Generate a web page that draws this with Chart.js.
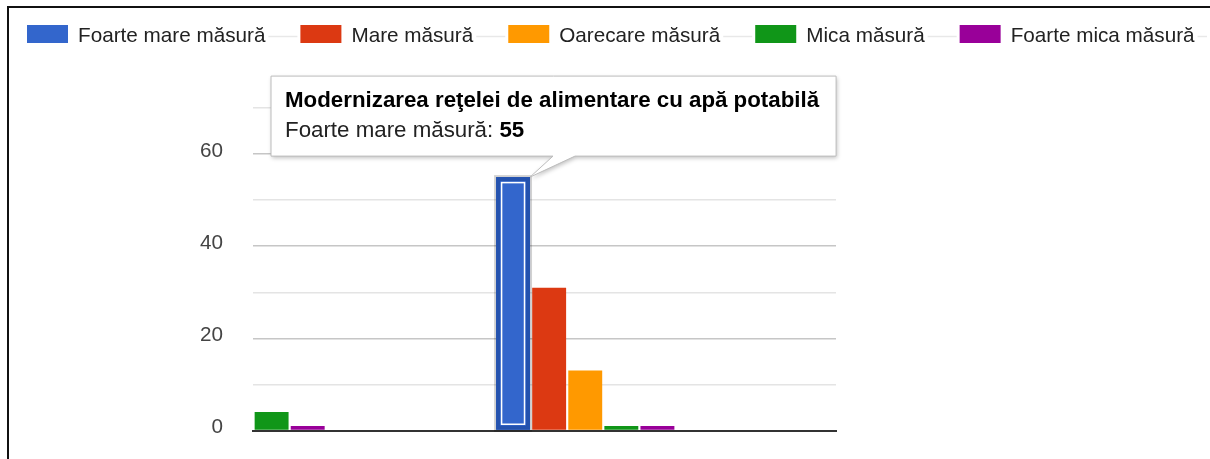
<!DOCTYPE html>
<html lang="ro">
  <head>
    <meta charset="utf-8">
    <title>Grafic</title>
    <script src="https://cdn.jsdelivr.net/npm/chart.js"></script>
    <style>
      html, body { margin: 0; padding: 0; background: #fff; overflow: hidden; }
      #wrap { position: relative; width: 1210px; height: 459px; }
      #frame { position: absolute; left: 7px; top: 6px; right: -10px; bottom: -10px;
               border-top: 2px solid #111; border-left: 2px solid #111; pointer-events: none; }
    </style>
  </head>
  <body>
    <div id="wrap">
      <canvas id="myChart" width="1210" height="459"></canvas>
      <div id="frame"></div>
    </div>

  <script>
    // categories (the first one is cut off on the left of the picture)
    const positions = [0, 1];
    const categories = ['', 'Modernizarea reţelei de alimentare cu apă potabilă'];

    const seriesNames = ['Foarte mare măsură', 'Mare măsură', 'Oarecare măsură', 'Mica măsură', 'Foarte mica măsură'];
    const seriesColors = ['#3366cc', '#dc3912', '#ff9900', '#109618', '#990099'];

    const foarteMare = [null, 55];
    const mare = [null, 31];
    const oarecare = [null, 13];
    const mica = [4, 1];
    const foarteMica = [1, 1];

    const yLabels = [0, 20, 40, 60];

    // tooltip shown on the blue bar of the second category
    const activeSeries = 0;
    const activeIndex = 1;

    const FONT = '"Liberation Sans", Arial, sans-serif';
    const FS = 20.7;
    const TIP_FS = 22.3;

    const allSeries = [foarteMare, mare, oarecare, mica, foarteMica];

    const datasets = allSeries.map((values, s) => ({
        label: seriesNames[s],
        data: positions.map((p, i) => ({ x: p, y: values[i] })),
        backgroundColor: seriesColors[s],
        borderWidth: 0,
        clip: 0
    }));

    const extras = {
        id: 'extras',
        afterDraw(chart) {
            const c = chart.ctx;
            c.save();

            // legend
            c.font = FS + 'px ' + FONT;
            c.textBaseline = 'alphabetic';
            let lx = 27;
            seriesNames.forEach((name, i) => {
                c.fillStyle = seriesColors[i];
                c.fillRect(lx, 25, 41, 18);
                c.fillStyle = '#222';
                c.fillText(name, lx + 51, 41.5);
                const end = lx + 51 + c.measureText(name).width;
                const next = i < seriesNames.length - 1 ? end + 35 : chart.width;
                c.strokeStyle = '#e8e8e8';
                c.lineWidth = 1.5;
                c.beginPath();
                c.moveTo(end + 3, 36.5);
                c.lineTo(next - 3, 36.5);
                c.stroke();
                lx = next;
            });

            // highlighted bar
            const bar = chart.getDatasetMeta(activeSeries).data[activeIndex];
            const { x, y, base, width } = bar.getProps(['x', 'y', 'base', 'width'], true);
            const left = x - width / 2, h = base - y;
            c.strokeStyle = 'rgba(0,0,0,0.18)';
            c.lineWidth = 2;
            c.strokeRect(left - 1, y - 1, width + 2, h + 2);
            c.strokeStyle = '#2452ae';
            c.lineWidth = 4;
            c.strokeRect(left + 2, y + 2, width - 4, h - 4);
            c.strokeStyle = '#ffffff';
            c.lineWidth = 1.5;
            c.strokeRect(left + 5.5, y + 5.5, width - 11, h - 11);

            // tooltip
            const tipX = x + width / 2, tipY = y;
            c.font = 'bold ' + TIP_FS + 'px ' + FONT;
            const title = categories[activeIndex];
            const titleW = c.measureText(title).width;
            const bx = tipX - 259, by = tipY - 101, bw = titleW + 31, bh = 80;

            c.beginPath();
            c.moveTo(bx, by);
            c.lineTo(bx + bw, by);
            c.lineTo(bx + bw, by + bh);
            c.lineTo(tipX + 45, by + bh);
            c.lineTo(tipX, tipY);
            c.lineTo(tipX + 23, by + bh);
            c.lineTo(bx, by + bh);
            c.closePath();
            c.save();
            c.shadowColor = 'rgba(0,0,0,0.25)';
            c.shadowBlur = 4;
            c.shadowOffsetX = 1;
            c.shadowOffsetY = 2;
            c.fillStyle = '#fff';
            c.fill();
            c.restore();
            c.strokeStyle = '#bdbdbd';
            c.lineWidth = 1;
            c.stroke();

            c.fillStyle = '#000';
            c.fillText(title, bx + 14, by + 31);
            c.font = TIP_FS + 'px ' + FONT;
            c.fillStyle = '#222';
            const bodyLabel = seriesNames[activeSeries] + ': ';
            c.fillText(bodyLabel, bx + 14, by + 60.5);
            const bodyW = c.measureText(bodyLabel).width;
            c.font = 'bold ' + TIP_FS + 'px ' + FONT;
            c.fillStyle = '#000';
            c.fillText(String(allSeries[activeSeries][activeIndex]), bx + 14 + bodyW, by + 60.5);

            c.restore();
        }
    };

    const ctx = document.getElementById('myChart').getContext('2d');
    const myChart = new Chart(ctx, {
        type: 'bar',
        data: { datasets: datasets },
        options: {
            responsive: false,
            animation: false,
            events: [],
            layout: { padding: { top: 108, right: 374, bottom: 28.5, left: 0 } },
            datasets: {
                bar: { categoryPercentage: 0.516, barPercentage: 0.94 }
            },
            scales: {
                x: {
                    type: 'linear',
                    offset: false,
                    min: 0.05,
                    max: 1.717,
                    afterBuildTicks: (scale) => { scale.ticks = positions.map(v => ({ value: v })); },
                    ticks: { display: false },
                    grid: { display: false, drawTicks: false },
                    border: { display: true, color: '#333', width: 2 }
                },
                y: {
                    min: 0,
                    max: 70,
                    afterFit: (scale) => {
                        scale.width = 253;
                        scale.paddingTop = 0;
                        scale.paddingBottom = 0;
                    },
                    ticks: {
                        stepSize: 10,
                        padding: 30,
                        labelOffset: -3,
                        color: '#444',
                        font: { family: FONT, size: FS },
                        callback: (v) => yLabels.includes(v) ? String(v) : ''
                    },
                    grid: {
                        drawTicks: false,
                        lineWidth: 1.5,
                        color: (c) => c.tick.value === 0 ? 'rgba(0,0,0,0)' : (c.tick.value % 20 === 0 ? '#c6c6c6' : '#e4e4e4')
                    },
                    border: { display: false }
                }
            },
            plugins: {
                legend: { display: false },
                tooltip: { enabled: false }
            }
        },
        plugins: [extras]
    });
  </script>
  </body>
</html>
